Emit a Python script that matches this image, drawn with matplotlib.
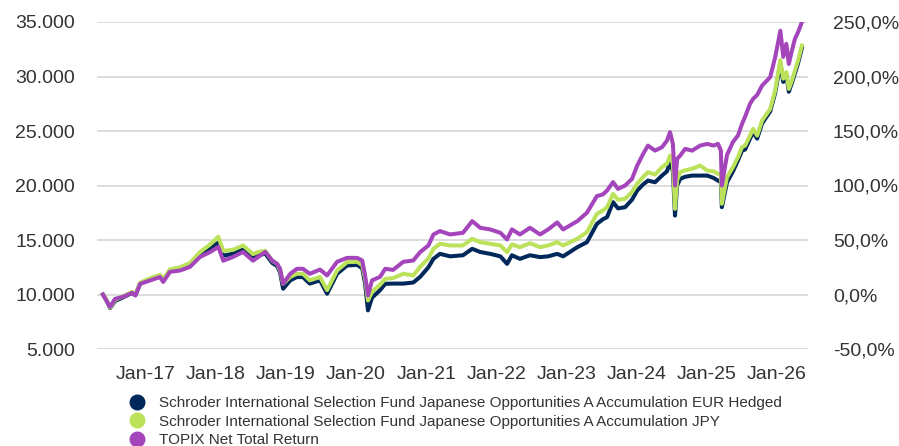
import matplotlib
matplotlib.use("Agg")
import matplotlib.pyplot as plt
import matplotlib.dates as mdates
from matplotlib.lines import Line2D
from matplotlib.ticker import FuncFormatter, MultipleLocator
import pandas as pd

plt.rcParams['font.family'] = ['Liberation Sans', 'DejaVu Sans']

dates = [
    "2016-05-22", "2016-06-07", "2016-06-28", "2016-07-24", "2016-09-05", "2016-10-21", "2016-11-07", "2016-12-02",
    "2017-01-24", "2017-03-15", "2017-04-01", "2017-05-06", "2017-06-28", "2017-08-19", "2017-10-10", "2017-12-02",
    "2018-01-13", "2018-02-08", "2018-03-31", "2018-05-22", "2018-07-13", "2018-08-09", "2018-09-15", "2018-10-21",
    "2018-11-16", "2018-12-01", "2018-12-17", "2019-01-23", "2019-02-27", "2019-03-30", "2019-05-05", "2019-06-27",
    "2019-08-03", "2019-09-24", "2019-11-15", "2020-01-07", "2020-02-02", "2020-02-17", "2020-03-03", "2020-03-24",
    "2020-05-05", "2020-06-01", "2020-07-12", "2020-09-03", "2020-10-25", "2020-11-30", "2021-01-12", "2021-02-07",
    "2021-03-13", "2021-05-05", "2021-07-11", "2021-08-28", "2021-10-09", "2021-11-30", "2022-01-22", "2022-02-26",
    "2022-03-23", "2022-05-04", "2022-06-25", "2022-08-17", "2022-09-28", "2022-11-14", "2022-12-15", "2023-02-27",
    "2023-04-18", "2023-06-09", "2023-07-10", "2023-08-01", "2023-09-01", "2023-09-27", "2023-11-03", "2023-12-09",
    "2024-01-05", "2024-02-05", "2024-03-01", "2024-04-07", "2024-05-13", "2024-06-08", "2024-06-24", "2024-07-09",
    "2024-07-20", "2024-07-31", "2024-08-16", "2024-09-11", "2024-10-17", "2024-11-28", "2025-01-04", "2025-02-05",
    "2025-03-01", "2025-03-16", "2025-03-21", "2025-04-17", "2025-05-18", "2025-06-13", "2025-07-04", "2025-07-20",
    "2025-08-15", "2025-08-31", "2025-09-21", "2025-10-17", "2025-11-28", "2025-12-24", "2026-01-20", "2026-02-04",
    "2026-02-20", "2026-03-05", "2026-03-21", "2026-04-06", "2026-04-22", "2026-05-12",
]

eur_hedged = [
    10000, 9550, 8750, 9400, 9750, 10150, 9950, 11000,
    11400, 11700, 11300, 12200, 12350, 12750, 13650, 14250,
    14750, 13550, 13750, 14200, 13400, 13600, 13750, 12900,
    12600, 12000, 10530, 11300, 11600, 11600, 11000, 11300,
    10070, 11900, 12660, 12720, 12400, 11000, 8540, 9700,
    10400, 10980, 11000, 11000, 11100, 11620, 12500, 13270,
    13730, 13500, 13600, 14190, 13900, 13730, 13500, 12810,
    13600, 13270, 13600, 13430, 13500, 13730, 13500, 14340,
    14800, 16480, 16900, 17100, 18470, 17900, 18010, 18700,
    19540, 20100, 20450, 20300, 20910, 21300, 22140, 21300,
    17240, 20000, 20610, 20800, 20910, 20910, 20910, 20700,
    20450, 20300, 18010, 20300, 21300, 22300, 23200, 23300,
    24300, 24900, 24300, 25700, 26800, 28500, 31200, 29500,
    30200, 28600, 29400, 30300, 31200, 32600,
]

jpy = [
    10000, 9600, 8800, 9500, 9850, 10250, 10000, 11100,
    11500, 11800, 11400, 12300, 12500, 12900, 13900, 14600,
    15300, 14000, 14100, 14500, 13700, 13900, 14000, 13100,
    12800, 12200, 10980, 11620, 11900, 11900, 11300, 11600,
    10400, 12200, 12970, 13000, 12700, 11440, 9450, 10250,
    10900, 11440, 11500, 11900, 11750, 12540, 13300, 14190,
    14650, 14500, 14500, 15110, 14800, 14650, 14500, 13890,
    14600, 14340, 14700, 14340, 14500, 14800, 14500, 15110,
    15720, 17400, 17700, 18000, 19230, 18700, 18780, 19400,
    20150, 20800, 21220, 21000, 21680, 22000, 22750, 22000,
    17860, 20500, 21220, 21400, 21530, 21830, 21370, 21300,
    21070, 21000, 18320, 20770, 21680, 22600, 23520, 23660,
    24580, 25190, 24580, 25960, 27030, 28710, 31500, 29800,
    30390, 28860, 29620, 30540, 31460, 32830,
]

topix = [
    10000, 9500, 8870, 9600, 9800, 10150, 9900, 10980,
    11300, 11600, 11150, 12080, 12200, 12540, 13450, 13900,
    14370, 13100, 13450, 13900, 13100, 13450, 13900, 13120,
    12810, 12360, 10980, 11900, 12360, 12360, 11900, 12290,
    11750, 13000, 13360, 13360, 13120, 11750, 9910, 11290,
    11620, 12360, 12260, 13000, 13120, 13890, 14500, 15500,
    15820, 15510, 15660, 16730, 16120, 15970, 15660, 15050,
    15970, 15510, 16120, 15510, 15970, 16610, 15970, 16730,
    17500, 19030, 19180, 19540, 20310, 19690, 20000, 20610,
    21830, 22900, 23660, 23200, 23510, 24120, 24890, 23820,
    20000, 22440, 22750, 23360, 23200, 23660, 23820, 23660,
    23820, 23200, 20000, 22800, 24000, 24580, 25650, 26300,
    27500, 27950, 28300, 29170, 29940, 31770, 34200, 31800,
    33000, 31150, 32370, 33450, 34060, 34980,
]

series_names = [
    "Schroder International Selection Fund Japanese Opportunities A Accumulation EUR Hedged",
    "Schroder International Selection Fund Japanese Opportunities A Accumulation JPY",
    "TOPIX Net Total Return",
]
series_colors = ["#00285A", "#BBE25A", "#A445BB"]

x = pd.to_datetime(dates)
text_color = "#333333"

fig = plt.figure(figsize=(8.99, 4.46), dpi=100)
ax = fig.add_axes([97 / 899, 1 - 349 / 446, (808 - 97) / 899, (349 - 22) / 446])

for vals, col in zip([eur_hedged, jpy, topix], series_colors):
    ax.plot(x, vals, color=col, lw=2.9, solid_joinstyle="round", zorder=3)

ax.set_ylim(5000, 35000)
ax.set_xlim(pd.Timestamp("2016-04-21"), pd.Timestamp("2026-06-13"))
ax.yaxis.set_major_locator(MultipleLocator(5000))
ax.yaxis.set_major_formatter(FuncFormatter(lambda v, p: f"{int(round(v)):,}".replace(",", ".")))
ax.xaxis.set_major_locator(mdates.YearLocator(month=1, day=1))
ax.xaxis.set_major_formatter(mdates.DateFormatter("%b-%y"))
ax.grid(axis="y", color="#DCDCDC", lw=1.4, zorder=0)
for s in ax.spines.values():
    s.set_visible(False)
ax.tick_params(axis="y", length=0, pad=16, labelsize=14, labelcolor=text_color)
ax.tick_params(axis="x", length=0, pad=12, labelsize=14, labelcolor=text_color)

ax2 = ax.twinx()
ax2.set_ylim(-50, 250)
ax2.yaxis.set_major_locator(MultipleLocator(50))
ax2.yaxis.set_major_formatter(FuncFormatter(lambda v, p: f"{v:.1f}%".replace(".", ",")))
for s in ax2.spines.values():
    s.set_visible(False)
ax2.tick_params(axis="y", length=0, pad=18, labelsize=14, labelcolor=text_color)

handles = [Line2D([], [], marker="o", linestyle="none", markersize=10.5, color=c) for c in series_colors]
fig.legend(handles, series_names, loc="upper left", bbox_to_anchor=(129 / 899, 1 - 396.5 / 446),
           frameon=False, fontsize=11.0, handlelength=1.0, handletextpad=0.95, labelspacing=0.28,
           borderpad=0, borderaxespad=0, labelcolor=text_color)

fig.savefig("out.png", dpi=100)
